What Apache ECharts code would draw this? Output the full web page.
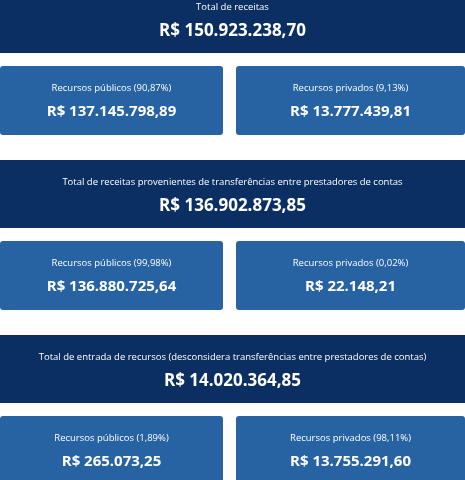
<!DOCTYPE html>
<html><head><meta charset="utf-8">
<script src="https://cdn.jsdelivr.net/npm/echarts@6/dist/echarts.min.js"></script>
<style>html,body{margin:0;padding:0;background:#fff}#main{width:465px;height:480px}</style>
</head><body><div id="main"></div>
<script>
const totalTitles = ['Total de receitas', 'Total de receitas provenientes de transferências entre prestadores de contas', 'Total de entrada de recursos (desconsidera transferências entre prestadores de contas)'];
const totalValues = ['R$ 150.923.238,70', 'R$ 136.902.873,85', 'R$ 14.020.364,85'];
const publicPct = ['90,87%', '99,98%', '1,89%'];
const publicValues = ['R$ 137.145.798,89', 'R$ 136.880.725,64', 'R$ 265.073,25'];
const privatePct = ['9,13%', '0,02%', '98,11%'];
const privateValues = ['R$ 13.777.439,81', 'R$ 22.148,21', 'R$ 13.755.291,60'];

const chart = echarts.init(document.getElementById('main'));
const font = 'Open Sans, sans-serif';
const elements = [];

function card(x, y, w, h, color, title, value, valueSize, r) {
  elements.push({ type: 'rect', shape: { x, y, width: w, height: h, r }, style: { fill: color } });
  elements.push({ type: 'text', x: x + w / 2, y: y + 22, style: { text: title, fill: '#fff', font: '9.5px ' + font, align: 'center', verticalAlign: 'middle' } });
  elements.push({ type: 'text', x: x + w / 2, y: y + 46, style: { text: value, fill: '#fff', font: 'bold ' + valueSize + 'px ' + font, align: 'center', verticalAlign: 'middle' } });
}

totalTitles.forEach((t, i) => {
  const top = -15 + i * 175;
  card(0, top, 465, 68, '#0b2f63', t, totalValues[i], 17, 0);
  card(0, top + 81, 223, 69, '#2762a3', 'Recursos públicos (' + publicPct[i] + ')', publicValues[i], 15, 3);
  card(236, top + 81, 229, 69, '#2762a3', 'Recursos privados (' + privatePct[i] + ')', privateValues[i], 15, 3);
});

chart.setOption({ backgroundColor: '#ffffff', graphic: { elements } });
</script></body></html>
